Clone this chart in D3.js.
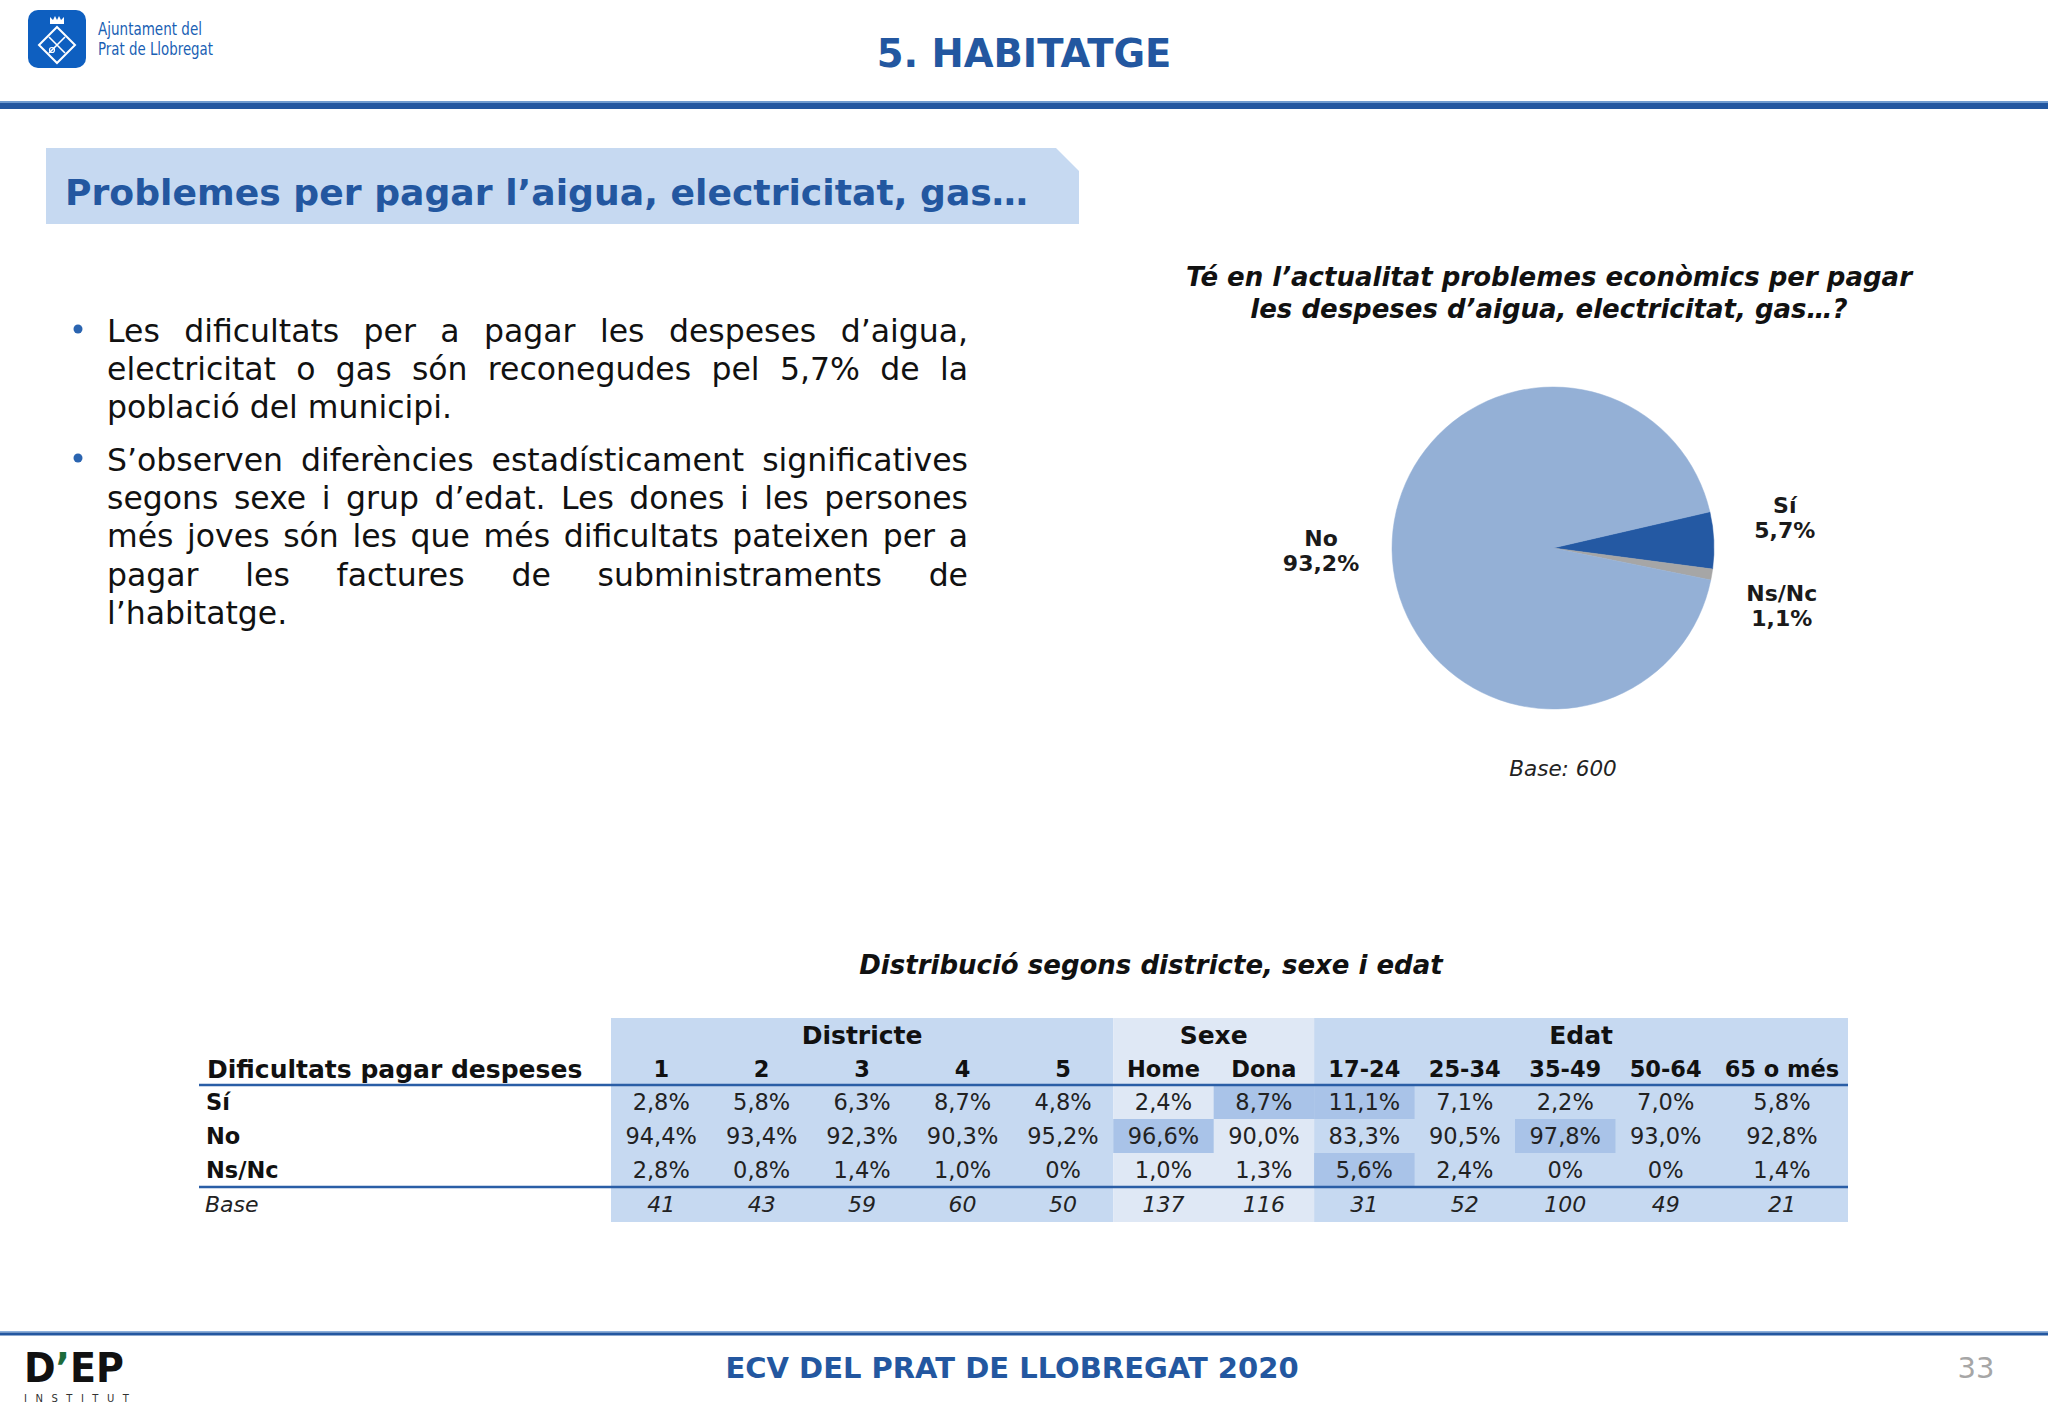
<!DOCTYPE html>
<html>
<head>
<meta charset="utf-8">
<script src="https://cdn.jsdelivr.net/npm/d3@7"></script>
<style>
  body { margin: 0; background: #fff; }
  svg { display: block; }
  text { font-family: Verdana, "DejaVu Sans", sans-serif; }
</style>
</head>
<body>
<svg id="chart" width="2048" height="1418"></svg>
<script>
// DATA ---------------------------------------------------------------------------
const pieLabels = ["Sí", "Ns/Nc", "No"];
const pieValues = [5.7, 1.1, 93.2];
const pieColors = ["#2459a3", "#a6a6a6", "#94b0d6"];

const groupNames = ["Districte", "Sexe", "Edat"];
const columnLabels = ["1", "2", "3", "4", "5", "Home", "Dona", "17-24", "25-34", "35-49", "50-64", "65 o més"];
const columnGroups = ["Districte", "Districte", "Districte", "Districte", "Districte", "Sexe", "Sexe", "Edat", "Edat", "Edat", "Edat", "Edat"];
const rowLabels = ["Sí", "No", "Ns/Nc"];
const valuesSi = [2.8, 5.8, 6.3, 8.7, 4.8, 2.4, 8.7, 11.1, 7.1, 2.2, 7.0, 5.8];
const valuesNo = [94.4, 93.4, 92.3, 90.3, 95.2, 96.6, 90.0, 83.3, 90.5, 97.8, 93.0, 92.8];
const valuesNsNc = [2.8, 0.8, 1.4, 1.0, 0, 1.0, 1.3, 5.6, 2.4, 0, 0, 1.4];
const bases = [41, 43, 59, 60, 50, 137, 116, 31, 52, 100, 49, 21];
const highlightCells = [["Sí", "Dona"], ["Sí", "17-24"], ["No", "Home"], ["No", "35-49"], ["Ns/Nc", "17-24"]];

const bulletParagraphs = [
    ["Les dificultats per a pagar les despeses d’aigua,",
     "electricitat o gas són reconegudes pel 5,7% de la",
     "població del municipi."],
    ["S’observen diferències estadísticament significatives",
     "segons sexe i grup d’edat. Les dones i les persones",
     "més joves són les que més dificultats pateixen per a",
     "pagar les factures de subministraments de",
     "l’habitatge."]
];

const BLUE = "#2357a0";
const svg = d3.select("#chart");

//HEADER --------------------------------------------------------------------------
const logo = svg.append("g");
logo.append("rect").attr("x", 28).attr("y", 10).attr("width", 58).attr("height", 58)
    .attr("rx", 10).attr("fill", "#0e5fc0");
logo.append("path").attr("d", "M57,27 L75,45 L57,63 L39,45 Z")
    .attr("fill", "none").attr("stroke", "#fff").attr("stroke-width", 2);
logo.append("path").attr("d", "M50,24 L50,17 L53,20 L55,16 L57,20 L59,16 L61,20 L64,17 L64,24 Z")
    .attr("fill", "#fff");
logo.append("path").attr("d", "M49,37 L65,53 M65,37 L49,53")
    .attr("stroke", "#fff").attr("stroke-width", 1.6);
logo.append("circle").attr("cx", 52).attr("cy", 50).attr("r", 2.5)
    .attr("fill", "none").attr("stroke", "#fff").attr("stroke-width", 1.2);
logo.append("text").attr("x", 98).attr("y", 35).attr("font-family", "'Liberation Sans Narrow', 'DejaVu Sans Condensed', sans-serif")
    .attr("font-size", 17).attr("fill", "#1a5fb4").attr("textLength", 104).attr("lengthAdjust", "spacingAndGlyphs")
    .text("Ajuntament del");
logo.append("text").attr("x", 98).attr("y", 55).attr("font-family", "'Liberation Sans Narrow', 'DejaVu Sans Condensed', sans-serif")
    .attr("font-size", 17).attr("fill", "#1a5fb4").attr("textLength", 115).attr("lengthAdjust", "spacingAndGlyphs")
    .text("Prat de Llobregat");

svg.append("text").attr("x", 1024).attr("y", 67).attr("text-anchor", "middle")
    .attr("font-size", 38.5).attr("font-weight", "bold").attr("fill", BLUE)
    .text("5. HABITATGE");

svg.append("rect").attr("x", 0).attr("y", 101).attr("width", 2048).attr("height", 2).attr("fill", "#6f9bd0");
svg.append("rect").attr("x", 0).attr("y", 103).attr("width", 2048).attr("height", 6).attr("fill", BLUE);

//SECTION TITLE -------------------------------------------------------------------
svg.append("path").attr("d", "M46,148 L1056,148 L1079,171 L1079,224 L46,224 Z").attr("fill", "#c6d9f1");
svg.append("text").attr("x", 65).attr("y", 205)
    .attr("font-size", 35).attr("font-weight", "bold").attr("fill", BLUE)
    .attr("textLength", 963).attr("lengthAdjust", "spacingAndGlyphs")
    .text("Problemes per pagar l’aigua, electricitat, gas…");

//BULLET TEXT (justified) ---------------------------------------------------------
const textLeft = 107, textRight = 968;
const bulletG = svg.append("g").attr("font-size", 31.5).attr("fill", "#111");
const paraStarts = [342, 471];
bulletParagraphs.forEach((lines, p) => {
    const y0 = paraStarts[p];
    bulletG.append("circle").attr("cx", 78).attr("cy", y0 - 13).attr("r", 4.5).attr("fill", "#2a64b0");
    lines.forEach((line, i) => {
        const y = y0 + i * 38.2;
        const words = line.split(" ");
        const nodes = words.map(w => bulletG.append("text").attr("y", y).text(w));
        const widths = nodes.map(n => n.node().getComputedTextLength());
        const last = i === lines.length - 1;
        const total = d3.sum(widths);
        const gap = (!last && words.length > 1) ? (textRight - textLeft - total) / (words.length - 1) : 10;
        let x = textLeft;
        nodes.forEach((n, k) => { n.attr("x", x); x += widths[k] + gap; });
    });
});

//PIE CHART -----------------------------------------------------------------------
svg.append("text").attr("x", 1549).attr("y", 286).attr("text-anchor", "middle")
    .attr("font-size", 26).attr("font-weight", "bold").attr("font-style", "italic").attr("fill", "#111")
    .text("Té en l’actualitat problemes econòmics per pagar");
svg.append("text").attr("x", 1549).attr("y", 318).attr("text-anchor", "middle")
    .attr("font-size", 26).attr("font-weight", "bold").attr("font-style", "italic").attr("fill", "#111")
    .text("les despeses d’aigua, electricitat, gas…?");

const cx = 1553, cy = 548, radius = 161;
const start = 77 * Math.PI / 180;
const pie = d3.pie().sort(null).value(d => d).startAngle(start).endAngle(start + 2 * Math.PI);
const arcs = pie(pieValues);
const arc = d3.arc().innerRadius(0).outerRadius(radius);
const labelArc = d3.arc().innerRadius(232).outerRadius(232);

const pieG = svg.append("g").attr("transform", `translate(${cx},${cy})`);
pieG.selectAll("path").data(arcs).enter().append("path")
    .attr("d", arc).attr("fill", (d, i) => pieColors[i])
    .attr("stroke", (d, i) => pieColors[i]).attr("stroke-width", 0.5);

// label positions with simple collision spreading on each side
const labelPos = arcs.map((d, i) => {
    const c = labelArc.centroid(d);
    return { i, x: c[0], y: c[1], right: c[0] > 0 };
});
[true, false].forEach(side => {
    const group = labelPos.filter(l => l.right === side).sort((a, b) => a.y - b.y);
    for (let k = 1; k < group.length; k++) {
        const a = group[k - 1], b = group[k];
        if (b.y - a.y < 88) {
            const mid = (a.y + b.y) / 2;
            a.y = mid - 44; b.y = mid + 44;
        }
    }
});
labelPos.forEach(l => {
    const t = pieG.append("text").attr("text-anchor", "middle")
        .attr("font-size", 22).attr("font-weight", "bold").attr("fill", "#1a1a1a");
    t.append("tspan").attr("x", l.x).attr("y", l.y - 5).text(pieLabels[l.i]);
    t.append("tspan").attr("x", l.x).attr("y", l.y + 20)
        .text(d3.format(".1f")(pieValues[l.i]).replace(".", ",") + "%");
});

svg.append("text").attr("x", 1563).attr("y", 776).attr("text-anchor", "middle")
    .attr("font-size", 21.5).attr("font-style", "italic").attr("fill", "#222")
    .text("Base: 600");

//TABLE ---------------------------------------------------------------------------
svg.append("text").attr("x", 1151).attr("y", 974).attr("text-anchor", "middle")
    .attr("font-size", 26).attr("font-weight", "bold").attr("font-style", "italic").attr("fill", "#111")
    .text("Distribució segons districte, sexe i edat");

const colWeights = columnLabels.map((c, i) => i === columnLabels.length - 1 ? 1.315 : 1);
const cum = [0];
colWeights.forEach(w => cum.push(cum[cum.length - 1] + w));
const xCol = d3.scaleLinear().domain([0, cum[cum.length - 1]]).range([611, 1848]);
const colX0 = i => xCol(cum[i]);
const colX1 = i => xCol(cum[i + 1]);
const colMid = i => (colX0(i) + colX1(i)) / 2;

const tableTop = 1018, lineY1 = 1085, lineY2 = 1187, tableBottom = 1222;
const yRow = d3.scaleBand().domain(rowLabels).range([lineY1, lineY2]);
const groupFill = { "Districte": "#c6d9f1", "Sexe": "#dfe8f5", "Edat": "#c6d9f1" };

const tableG = svg.append("g");
groupNames.forEach(gname => {
    const idx = columnGroups.map((g, i) => g === gname ? i : -1).filter(i => i >= 0);
    const x0 = colX0(idx[0]), x1 = colX1(idx[idx.length - 1]);
    tableG.append("rect").attr("x", x0).attr("y", tableTop).attr("width", x1 - x0)
        .attr("height", tableBottom - tableTop).attr("fill", groupFill[gname]);
    tableG.append("text").attr("x", (x0 + x1) / 2).attr("y", 1044).attr("text-anchor", "middle")
        .attr("font-size", 25).attr("font-weight", "bold").attr("fill", "#111").text(gname);
});

highlightCells.forEach(([r, c]) => {
    const i = columnLabels.indexOf(c);
    tableG.append("rect").attr("x", colX0(i)).attr("y", yRow(r))
        .attr("width", colX1(i) - colX0(i)).attr("height", yRow.bandwidth()).attr("fill", "#a9c3e8");
});

tableG.append("text").attr("x", 207).attr("y", 1078)
    .attr("font-size", 25).attr("font-weight", "bold").attr("fill", "#111")
    .text("Dificultats pagar despeses");

columnLabels.forEach((c, i) => {
    tableG.append("text").attr("x", colMid(i)).attr("y", 1077).attr("text-anchor", "middle")
        .attr("font-size", 22.5).attr("font-weight", "bold").attr("fill", "#111").text(c);
});

const fmtPct = v => v === 0 ? "0%" : d3.format(".1f")(v).replace(".", ",") + "%";
const rowValues = [valuesSi, valuesNo, valuesNsNc];
rowLabels.forEach((r, k) => {
    const yb = yRow(r) + yRow.bandwidth() / 2 + 8;
    tableG.append("text").attr("x", 206).attr("y", yb)
        .attr("font-size", 22.5).attr("font-weight", "bold").attr("fill", "#111").text(r);
    rowValues[k].forEach((v, i) => {
        tableG.append("text").attr("x", colMid(i)).attr("y", yb).attr("text-anchor", "middle")
            .attr("font-size", 22.5).attr("fill", "#222").text(fmtPct(v));
    });
});

tableG.append("text").attr("x", 205).attr("y", 1212)
    .attr("font-size", 22).attr("font-style", "italic").attr("fill", "#222").text("Base");
bases.forEach((b, i) => {
    tableG.append("text").attr("x", colMid(i)).attr("y", 1212).attr("text-anchor", "middle")
        .attr("font-size", 22).attr("font-style", "italic").attr("fill", "#222").text(b);
});

[lineY1, lineY2].forEach(y => {
    tableG.append("line").attr("x1", 199).attr("x2", 1848).attr("y1", y).attr("y2", y)
        .attr("stroke", "#2a5ea6").attr("stroke-width", 2.5);
});

//FOOTER --------------------------------------------------------------------------
svg.append("rect").attr("x", 0).attr("y", 1331).attr("width", 2048).attr("height", 1.5).attr("fill", "#8fb1dc");
svg.append("rect").attr("x", 0).attr("y", 1332.5).attr("width", 2048).attr("height", 3).attr("fill", BLUE);

svg.append("text").attr("x", 1012).attr("y", 1378).attr("text-anchor", "middle")
    .attr("font-size", 29).attr("font-weight", "bold").attr("fill", BLUE)
    .text("ECV DEL PRAT DE LLOBREGAT 2020");
svg.append("text").attr("x", 1976).attr("y", 1378).attr("text-anchor", "middle")
    .attr("font-size", 29).attr("fill", "#a6a6a6").text("33");

const dep = svg.append("text").attr("x", 24).attr("y", 1382)
    .attr("font-family", "'Liberation Sans', Arial, sans-serif")
    .attr("font-size", 40).attr("font-weight", "bold").attr("fill", "#111")
    .attr("textLength", 100).attr("lengthAdjust", "spacingAndGlyphs");
dep.append("tspan").text("D");
dep.append("tspan").attr("fill", "#1d6b3b").text("’");
dep.append("tspan").text("EP");
svg.append("text").attr("x", 24).attr("y", 1402)
    .attr("font-family", "'Liberation Sans', Arial, sans-serif")
    .attr("font-size", 10).attr("fill", "#333").attr("letter-spacing", 8.5)
    .text("INSTITUT");
</script>
</body>
</html>
